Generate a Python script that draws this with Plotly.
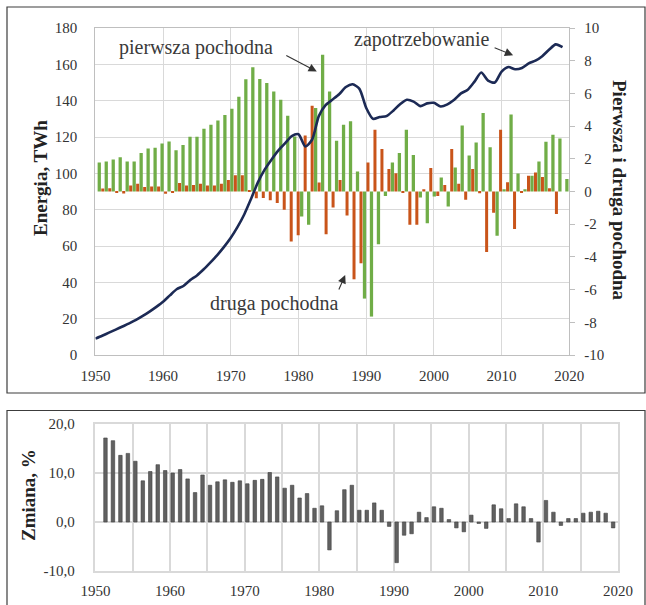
import plotly.graph_objects as go

# Annual electricity demand, TWh
years = list(range(1950, 2020))
demand = [
    9.0, 10.6, 12.3, 14.0, 15.7, 17.4, 19.3, 21.5, 23.9, 26.5,
    29.3, 32.8, 36.2, 38.0, 41.2, 43.8, 47.2, 51.0, 55.0, 59.5,
    64.5, 70.5, 77.5, 86.0, 95.0, 102.0, 107.5, 112.5, 116.5, 120.5,
    121.5, 114.8, 118.5, 131.5, 137.5, 140.5, 143.5, 147.5, 149.0, 146.5,
    136.0, 130.0, 131.0, 131.5, 134.5, 138.0, 140.5, 139.5, 137.0, 138.5,
    138.8, 136.8, 138.0, 140.5, 144.0, 146.0, 150.5, 155.5, 151.0, 150.0,
    156.0, 158.5, 157.3, 158.0, 160.5, 162.0, 164.5, 168.0, 171.0, 169.5,
]

# First and second derivative of demand
deriv_years = list(range(1951, 2019))
first_deriv = [
    1.78, 1.84, 1.96, 2.10, 1.84, 1.84, 2.35, 2.63, 2.68, 2.94,
    3.06, 2.53, 2.84, 3.35, 3.35, 3.84, 4.08, 4.35, 4.68, 5.06,
    5.80, 6.86, 7.60, 6.88, 6.64, 6.12, 5.61, 4.64, 3.37, -1.53,
    -2.04, 5.10, 8.37, 6.12, 3.10, 4.08, 4.29, 1.23, -6.55, -7.65,
    -3.23, -0.28, 1.78, 2.35, 3.78, 2.24, -0.37, -1.94, -0.30, 0.86,
    -0.92, 1.47, 4.04, 2.20, 3.00, 4.80, 2.70, -2.70, 0.14, 4.71,
    1.10, 0.14, 0.96, 1.84, 3.04, 3.47, 3.24, 0.76,
]
second_deriv = [
    0.19, 0.20, -0.06, -0.12, 0.36, 0.47, 0.27, 0.30, 0.30, -0.14,
    -0.04, 0.52, 0.37, 0.39, 0.48, 0.37, 0.37, 0.48, 0.70, 0.99,
    0.99, 0.05, -0.41, -0.40, -0.53, -0.71, -1.12, -3.06, -2.68, 3.43,
    5.25, 0.55, -2.61, -0.98, 0.70, -1.47, -5.37, -4.39, 1.78, 3.78,
    2.60, 1.37, 1.12, -0.05, -2.04, -2.04, 0.14, 1.43, -0.27, 0.40,
    2.60, 0.47, -0.50, 1.37, -0.10, -3.70, -1.30, 3.78, 0.57, -2.30,
    -0.06, 0.96, 1.16, 0.88, 0.20, -1.37, 0.0, 0.0,
]

# Year-on-year change, %
change_years = list(range(1951, 2020))
change_pct = [
    17.15, 16.6, 13.6, 14.0, 12.4, 8.4, 10.3, 11.7, 10.5, 10.0,
    10.7, 8.8, 6.0, 9.6, 7.5, 8.2, 8.6, 8.1, 8.4, 7.8,
    8.5, 8.7, 10.1, 9.2, 6.9, 7.5, 4.9, 5.8, 2.8, 3.3,
    -5.7, 2.3, 6.6, 7.5, 2.4, 2.4, 3.9, 2.4, -0.9, -8.3,
    -2.7, -2.4, 2.0, 0.9, 3.1, 2.8, 0.5, -1.2, -2.0, 1.4,
    -0.3, -1.3, 3.5, 2.7, 0.7, 3.7, 3.1, 0.7, -4.1, 4.4,
    2.0, -0.7, 0.7, 0.7, 1.8, 2.0, 2.2, 1.8, -1.2,
]

year_ticks = list(range(1950, 2021, 10))
energy_ticks = list(range(0, 181, 20))
deriv_ticks = list(range(-10, 11, 2))
pct_ticks = [-10, 0, 10, 20]

W, H = 646, 605
FONT = "Liberation Serif"
GRID = "#d9d9d9"
AXIS = "#bfbfbf"
TXT = "#333333"


def fx(p):
    return p / W


def fy(p):
    return 1 - p / H


def minus(v, fmt="{:d}"):
    return fmt.format(v).replace("\u2212", "-")


top_x = [fx(95.4), fx(569.3)]
top_y = [fy(355), fy(28)]
bot_x = [fx(95.4), fx(618)]
bot_y = [fy(571), fy(424)]

fig = go.Figure()

# Derivative bars (base subplot, right axis)
fig.add_trace(go.Bar(
    x=deriv_years, y=first_deriv, xaxis="x", yaxis="y",
    marker=dict(color="#70ad47", line=dict(width=0)),
    width=0.47, offset=-0.49, name="pierwsza pochodna",
))
fig.add_trace(go.Bar(
    x=deriv_years, y=second_deriv, xaxis="x", yaxis="y",
    marker=dict(color="#c9541a", line=dict(width=0)),
    width=0.43, offset=0.03, name="druga pochodna",
))

# Demand line (overlay subplot, left axis)
fig.add_trace(go.Scatter(
    x=years, y=demand, xaxis="x2", yaxis="y2", mode="lines",
    line=dict(color="#1c2a55", width=2.6, shape="spline", smoothing=0.7),
    name="zapotrzebowanie",
))

# Percentage change bars
fig.add_trace(go.Bar(
    x=change_years, y=change_pct, xaxis="x3", yaxis="y3",
    marker=dict(color="#616161", line=dict(color="#404040", width=0.6)),
    width=0.47, offset=0.115, name="zmiana",
))

tickfont = dict(family=FONT, size=15, color=TXT)

fig.update_layout(
    width=W, height=H, autosize=False,
    margin=dict(l=0, r=0, t=0, b=0, autoexpand=False),
    paper_bgcolor="white", plot_bgcolor="white",
    showlegend=False, barmode="overlay",
    font=dict(family=FONT, color=TXT),
    xaxis=dict(
        domain=top_x, anchor="y", visible=False, automargin=False,
        range=[deriv_years[0] - 0.81, deriv_years[-1] + 0.09],
        fixedrange=True,
    ),
    yaxis=dict(
        domain=top_y, anchor="x", side="right", automargin=False,
        range=[-10, 10], tickvals=deriv_ticks,
        ticktext=[minus(v) for v in deriv_ticks],
        showgrid=False, zeroline=False,
        showline=True, linecolor=AXIS, linewidth=1,
        ticks="outside", ticklen=5, tickcolor=AXIS,
        ticklabelstandoff=6, tickfont=tickfont,
    ),
    xaxis2=dict(
        overlaying="x", anchor="y2", range=[1950, 2020], automargin=False,
        tickvals=year_ticks, ticktext=[str(v) for v in year_ticks],
        showgrid=True, gridcolor=GRID, gridwidth=1.3,
        showline=True, linecolor=AXIS, linewidth=1.3, mirror=True,
        zeroline=False, ticks="", ticklabelstandoff=7, tickfont=tickfont,
    ),
    yaxis2=dict(
        overlaying="y", anchor="x2", side="left", range=[0, 180], automargin=False,
        tickvals=energy_ticks, ticktext=[str(v) for v in energy_ticks],
        showgrid=True, gridcolor=GRID, gridwidth=1.3,
        showline=True, linecolor=AXIS, linewidth=1.3,
        zeroline=False, ticks="", ticklabelstandoff=14, tickfont=tickfont,
    ),
    xaxis3=dict(
        domain=bot_x, anchor="y3", range=[1950, 2020], automargin=False,
        tickvals=year_ticks, ticktext=[str(v) for v in year_ticks],
        showgrid=True, gridcolor=GRID, gridwidth=1.5,
        minor=dict(dtick=5, tick0=1950, showgrid=True, gridcolor=GRID, gridwidth=1.5),
        showline=True, linecolor=GRID, linewidth=1.5, mirror=True,
        zeroline=False, ticks="", ticklabelstandoff=5, tickfont=tickfont,
    ),
    yaxis3=dict(
        domain=bot_y, anchor="x3", range=[-10, 20], automargin=False,
        tickvals=pct_ticks,
        ticktext=[minus(v, "{:.1f}").replace(".", ",") for v in pct_ticks],
        showgrid=True, gridcolor=GRID, gridwidth=1.5,
        showline=True, linecolor=GRID, linewidth=1.5, mirror=True,
        zeroline=False, ticks="", ticklabelstandoff=16, tickfont=tickfont,
    ),
)

note_font = dict(family=FONT, size=20, color="#3a3a3a")
title_font = dict(family=FONT, size=19, color="#222222", weight="bold")
arrow = dict(showarrow=True, arrowhead=2, arrowsize=1.5, arrowwidth=1.1,
             arrowcolor="#333333", standoff=0, text="")
centered = dict(xanchor="center", yanchor="middle", showarrow=False)

fig.add_annotation(text="pierwsza pochodna", x=1964.9, y=169, xref="x2", yref="y2",
                   font=note_font, **centered)
fig.add_annotation(x=1982.7, y=156, xref="x2", yref="y2", ax=-32, ay=-17, **arrow)

fig.add_annotation(text="zapotrzebowanie", x=1998.2, y=173.4, xref="x2", yref="y2",
                   font=note_font, **centered)
fig.add_annotation(x=2011.7, y=165, xref="x2", yref="y2", ax=-20, ay=-8, **arrow)

fig.add_annotation(text="druga pochodna", x=1976.4, y=28.6, xref="x2", yref="y2",
                   font=note_font, **centered)
fig.add_annotation(x=1986.9, y=44, xref="x2", yref="y2", ax=-7, ay=16, **arrow)

fig.add_annotation(text="Energia, TWh", x=fx(40), y=fy(178), xref="paper", yref="paper",
                   textangle=-90, font=title_font, **centered)
fig.add_annotation(text="Pierwsza i druga pochodna", x=fx(620), y=fy(190),
                   xref="paper", yref="paper", textangle=90, font=title_font,
                   **centered)
fig.add_annotation(text="Zmiana, %", x=fx(28), y=fy(495), xref="paper", yref="paper",
                   textangle=-90, font=title_font, **centered)

# Panel frames
frame = dict(type="rect", xref="paper", yref="paper",
             line=dict(color="#3c3c3c", width=1.2), fillcolor="rgba(0,0,0,0)")
fig.add_shape(x0=fx(7), x1=fx(645), y0=fy(393), y1=fy(7), **frame)
fig.add_shape(x0=fx(7), x1=fx(645), y0=fy(606), y1=fy(410.5), **frame)

fig.write_html("out.html")
